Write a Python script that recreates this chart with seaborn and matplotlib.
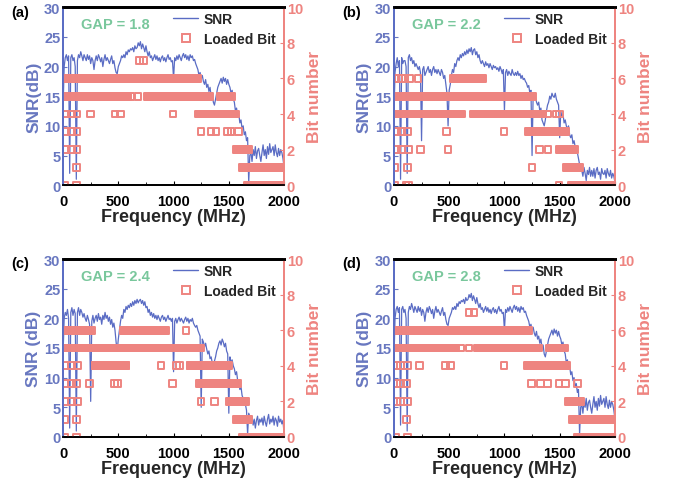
import numpy as np
import matplotlib
matplotlib.use("Agg")
import matplotlib.pyplot as plt
import seaborn as sns
from matplotlib.lines import Line2D
from matplotlib.ticker import MultipleLocator

BLUE = "#5a6cc4"
BLUE_TXT = "#6877c0"
RED = "#ee8480"
GREEN = "#79c79c"

# SNR (dB) sampled every 10 MHz from 0 to 2000 MHz
snr_a = [13, 20, 21.5, 22, 21, 21.8, 2, 21.5, 22, 21,
         21.5, 20, 1, 21, 22, 21.5, 22.5, 21.8, 21, 22,
         21.5, 21, 22, 21.2, 21.8, 20.5, 21.5, 21, 19.5, 21,
         21.8, 21, 22, 21.5, 20.8, 21.5, 20, 21.2, 22, 21,
         21.5, 21, 20.5, 21.2, 21.8, 20.5, 21, 19.8, 19, 18.8,
         20, 20.5, 21, 21.8, 21.5, 22, 21.5, 22.5, 22, 22.8,
         22.5, 23, 22.8, 23.2, 22.5, 23.5, 23, 23.2, 24, 23.5,
         24.2, 23, 23.8, 23.2, 22.5, 23.5, 22.5, 21.8, 22.5, 21.5,
         21.8, 21, 21.5, 22, 21.2, 21.8, 21, 21.5, 20.8, 21.5,
         21.8, 21, 21.5, 20.8, 21.5, 22, 21.2, 21.5, 20.8, 21,
         18, 21.5, 21, 21.8, 21.2, 22, 21.5, 21, 21.8, 22.2,
         21.5, 22, 21.2, 21.8, 21, 22, 21.5, 21.8, 21, 21.2,
         20.5, 20, 19.5, 18.5, 19, 18, 18.5, 17.5, 17, 17.8,
         16.5, 17, 15.8, 16.5, 15, 15.5, 14, 13.5, 14.5, 15.5,
         16.5, 17, 17.5, 18, 17.2, 18.2, 17.5, 18, 17, 17.8,
         17, 16.5, 15.5, 16, 14.5, 14, 12.5, 13, 11.5, 12,
         10.5, 11, 9.5, 10, 8.5, 9, 7.5, 8, 0.5, 5,
         5.5, 4, 6, 5, 6.5, 4.5, 5.8, 6.2, 5, 4,
         5.5, 6.8, 5, 6, 4.5, 6.5, 5.2, 7, 5.5, 6,
         6.5, 5, 6.8, 5.5, 4.8, 6.2, 5, 6, 5.5, 4.5,
         3]

snr_b = [12, 19, 20.5, 21.5, 20, 21, 1, 21.5, 20.5, 21,
         21, 20, 2, 21.5, 22, 21, 21.5, 20.5, 21, 20,
         20.5, 20, 19.5, 20, 19, 7.5, 19.5, 20, 18.5, 19,
         19.5, 20, 19, 19.5, 18.5, 19.5, 20, 19, 19.5, 18.8,
         19.5, 19, 18.5, 19.5, 19, 18, 18.5, 17, 15.5, 10,
         16, 17, 18.5, 19.5, 19, 20.5, 20, 21, 21.5, 21,
         22, 21.5, 22.2, 21.8, 22.5, 22, 22.8, 22.2, 23, 22.5,
         23.2, 22, 22.8, 23, 22, 22.5, 21.5, 22, 21, 20.5,
         21, 20.5, 20, 20.8, 20.2, 20.5, 19.8, 20.5, 20, 19.5,
         20.2, 19.8, 20, 19.5, 19.8, 19.2, 20, 19.5, 18.8, 19.5,
         12.5, 19, 19.5, 18.5, 19.2, 18.8, 18.5, 19.5, 18.8, 18.5,
         19, 18.5, 19.2, 18.5, 18.8, 18, 18.5, 17.8, 18, 17.5,
         17.2, 16.5, 16.8, 15.5, 16, 5, 15.5, 14.5, 15, 14,
         13.5, 14, 12.5, 13, 11, 10.5, 10, 11, 12.5, 13.5,
         14, 15, 14.5, 15.5, 15, 14.8, 15.5, 14.5, 14, 13.5,
         8, 12.5, 11.5, 12, 10.5, 11, 10, 9.5, 10, 8.5,
         8, 8.5, 7, 7.5, 6.5, 6, 5.5, 4.5, 3.5, 3,
         2.5, 1.5, 3, 2, 0.8, 2.5, 1.8, 3, 1.5, 2.5,
         1.5, 2.8, 1.2, 2.5, 3, 1.8, 2.2, 1, 2.8, 2,
         1.8, 2.5, 1.2, 2.8, 2, 1.5, 2.5, 1.2, 2, 1.5,
         0.5]

snr_c = [14, 20, 21, 20.5, 21.5, 20, 1.5, 21, 21.8, 20.5,
         21.5, 20.8, 1, 21, 21.8, 20.5, 21.5, 21, 20.2, 20.8,
         20, 19.5, 20.5, 19.8, 19, 6, 19.5, 20.5, 19.2, 20,
         20.5, 19.5, 20.8, 19.8, 20.2, 19, 20.5, 19.8, 21, 20,
         20.5, 19.5, 20.2, 19, 19.8, 18.5, 19.2, 18, 16, 14.5,
         16.5, 18, 19.5, 20.5, 20, 21.5, 21, 22, 21.5, 22.2,
         21.8, 22.5, 22, 22.8, 22.2, 23, 22.5, 23.2, 22.6, 23,
         23.2, 22.5, 23, 22.2, 22.8, 21.8, 22, 21, 21.5, 20.5,
         21, 20.2, 20.8, 20, 20.5, 19.8, 20.5, 20, 19.5, 20.2,
         20.5, 19.8, 20.2, 19.5, 20, 20.5, 19.8, 20, 19.5, 20,
         11, 19.5, 20, 19.2, 19.8, 20.2, 19.5, 20, 19.6, 19.2,
         19.8, 20.2, 19.5, 20, 19.2, 19.8, 19.5, 20, 19.2, 18.8,
         18.5, 18.8, 18, 17.5, 17, 5, 16.5, 16, 15.2, 15.8,
         14.8, 14, 14.5, 13.2, 13.5, 12.5, 12, 12.8, 13.5, 14.5,
         15, 15.8, 16.2, 15.5, 16.5, 16, 15.2, 15.8, 14.5, 14,
         4, 13.5, 12.5, 13, 12, 11.5, 10.5, 11, 9.5, 9,
         8, 8.5, 7, 6.5, 6, 5.5, 4.5, 0.5, 4, 3.5,
         2.5, 3.5, 2, 3, 1.5, 2.8, 3.5, 2, 3, 2.5,
         3.2, 2, 3.5, 2.5, 1.8, 3, 3.8, 2.2, 3, 2.5,
         3.5, 2, 3.2, 2.8, 1.8, 3.5, 2.5, 3, 2.2, 2.8,
         0.5]

# loaded bits: dense runs (bit, f_start, f_end) and isolated subcarriers (bit, f)
runs_a = [(6, 10, 1220), (5, 10, 590), (5, 760, 1330), (5, 1420, 1530),
          (4, 1220, 1565), (2, 1570, 1685), (1, 1625, 2000), (0, 1670, 2000)]
spots_a = [(7, 690), (7, 730), (5, 615), (5, 679),
           (4, 20), (4, 75), (4, 127), (4, 250), (4, 470), (4, 520), (4, 995),
           (3, 20), (3, 75), (3, 126), (3, 1248), (3, 1338), (3, 1384),
           (3, 1490), (3, 1520), (3, 1590),
           (2, 20), (2, 75), (2, 126), (1, 120), (0, 15), (0, 120)]

runs_b = [(6, 534, 806), (5, 5, 1258), (4, 0, 130), (4, 170, 610),
          (4, 715, 1350), (3, 1213, 1560), (2, 1493, 1635), (1, 1560, 1680),
          (0, 1605, 2000)]
spots_b = [(6, 15), (6, 45), (6, 70), (6, 100), (6, 142), (6, 217),
           (4, 1394), (4, 1470), (4, 1500),
           (3, 20), (3, 66), (3, 120), (3, 474), (3, 996),
           (2, 20), (2, 66), (2, 130), (2, 241), (2, 489), (2, 1315), (2, 1395),
           (1, 5), (1, 120), (1, 1249), (0, 5), (0, 110), (0, 130), (0, 1493)]

runs_c = [(6, 10, 260), (6, 541, 932), (5, 10, 1248), (4, 286, 571),
          (4, 1143, 1504), (3, 1227, 1579), (2, 1504, 1654), (1, 1570, 1685),
          (0, 1620, 2000)]
spots_c = [(6, 1113), (4, 15), (4, 75), (4, 130), (4, 887), (4, 1023), (4, 1053),
           (3, 15), (3, 75), (3, 120), (3, 241), (3, 466), (3, 496), (3, 993),
           (2, 15), (2, 75), (2, 130), (2, 1248), (2, 1369),
           (1, 15), (1, 120), (0, 15), (0, 120)]

runs_d = [(6, 0, 1222), (5, 0, 560), (5, 754, 1312), (5, 1403, 1554),
          (4, 1207, 1569), (2, 1578, 1690), (1, 1614, 2000), (0, 1659, 2000)]
spots_d = [(7, 679), (7, 724), (5, 600), (5, 680),
           (4, 20), (4, 60), (4, 120), (4, 235), (4, 468), (4, 513), (4, 996),
           (3, 20), (3, 60), (3, 115), (3, 1246), (3, 1327), (3, 1388),
           (3, 1493), (3, 1554), (3, 1659),
           (2, 20), (2, 60), (2, 120), (1, 115), (0, 15), (0, 120)]

panels = [("(a)", "GAP = 1.8", "SNR(dB)", snr_a, runs_a, spots_a),
          ("(b)", "GAP = 2.2", "SNR(dB)", snr_b, runs_b, spots_b),
          ("(c)", "GAP = 2.4", "SNR (dB)", snr_c, runs_c, spots_c),
          ("(d)", "GAP = 2.8", "SNR (dB)", snr_a, runs_d, spots_d)]

subcarriers = np.arange(257) * 2000 / 256


def bit_points(runs, spots):
    f, b = [], []
    for level, lo, hi in runs:
        sel = subcarriers[(subcarriers >= lo) & (subcarriers <= hi)]
        f.extend(sel)
        b.extend([level] * len(sel))
    for level, x in spots:
        f.append(x)
        b.append(level)
    return np.array(f), np.array(b)


sns.set_style("ticks")
plt.rcParams["font.family"] = ["Liberation Sans", "DejaVu Sans"]
plt.rcParams["font.weight"] = "bold"
plt.rcParams["axes.labelweight"] = "bold"

fig, axes = plt.subplots(2, 2, figsize=(6.78, 4.85), dpi=100)
fig.subplots_adjust(left=0.093, right=0.907, bottom=0.097, top=0.983,
                    wspace=0.497, hspace=0.415)

for ax, (tag, gap, ylab, snr, runs, spots) in zip(axes.flat, panels):
    freq = np.linspace(0, 2000, len(snr))
    sns.lineplot(x=freq, y=snr, ax=ax, color=BLUE, lw=0.9)
    ax.set_xlim(0, 2000)
    ax.set_ylim(0, 30)

    ax2 = ax.twinx()
    f, b = bit_points(runs, spots)
    sns.scatterplot(x=f, y=b, ax=ax2, marker="s", s=24, facecolor="none",
                    edgecolor=RED, linewidth=1.4, legend=False)
    ax2.set_ylim(0, 10)

    ax.xaxis.set_major_locator(MultipleLocator(500))
    ax.xaxis.set_minor_locator(MultipleLocator(250))
    ax.yaxis.set_major_locator(MultipleLocator(5))
    ax2.yaxis.set_major_locator(MultipleLocator(2))
    ax.tick_params(axis="x", which="both", direction="in", labelsize=10.5,
                   colors="black", pad=6.5)
    ax.tick_params(axis="x", which="major", length=3)
    ax.tick_params(axis="x", which="minor", length=2)
    ax.tick_params(axis="y", direction="in", labelsize=10.5, colors=BLUE_TXT, length=3, pad=2)
    ax2.tick_params(axis="y", direction="in", labelsize=10.5, colors=RED, length=3, pad=2)

    for a in (ax, ax2):
        a.spines["left"].set_color(BLUE)
        a.spines["right"].set_color(RED)
        a.spines["top"].set_color("black")
        a.spines["bottom"].set_color("black")
        a.spines["top"].set_linewidth(2)
        a.spines["bottom"].set_linewidth(1.3)
        a.spines["left"].set_linewidth(1.3)
        a.spines["right"].set_linewidth(1.3)
        a.spines["top"].set_visible(True)
        a.spines["right"].set_visible(True)

    ax.set_xlabel("Frequency (MHz)", fontsize=13, labelpad=0)
    ax.set_ylabel(ylab, fontsize=12.5, color=BLUE_TXT, labelpad=2)
    ax2.set_ylabel("Bit number", fontsize=12.5, color=RED, labelpad=3)

    ax.text(0.08, 0.905, gap, transform=ax.transAxes, color=GREEN,
            fontsize=10.5, va="center", ha="left")
    ax.text(-0.235, 0.975, tag, transform=ax.transAxes, color="black",
            fontsize=10.5, va="center", ha="left")

    handles = [Line2D([], [], color=BLUE, lw=1),
               Line2D([], [], marker="s", ls="", mfc="none", mec=RED, mew=1.4, ms=5.5)]
    ax2.legend(handles, ["SNR", "Loaded Bit"], loc="upper right",
               bbox_to_anchor=(1.0, 1.02), frameon=False, fontsize=10,
               handlelength=1.8, handletextpad=0.4, labelspacing=0.45,
               borderaxespad=0.2)

fig.savefig("out.png", dpi=100)
